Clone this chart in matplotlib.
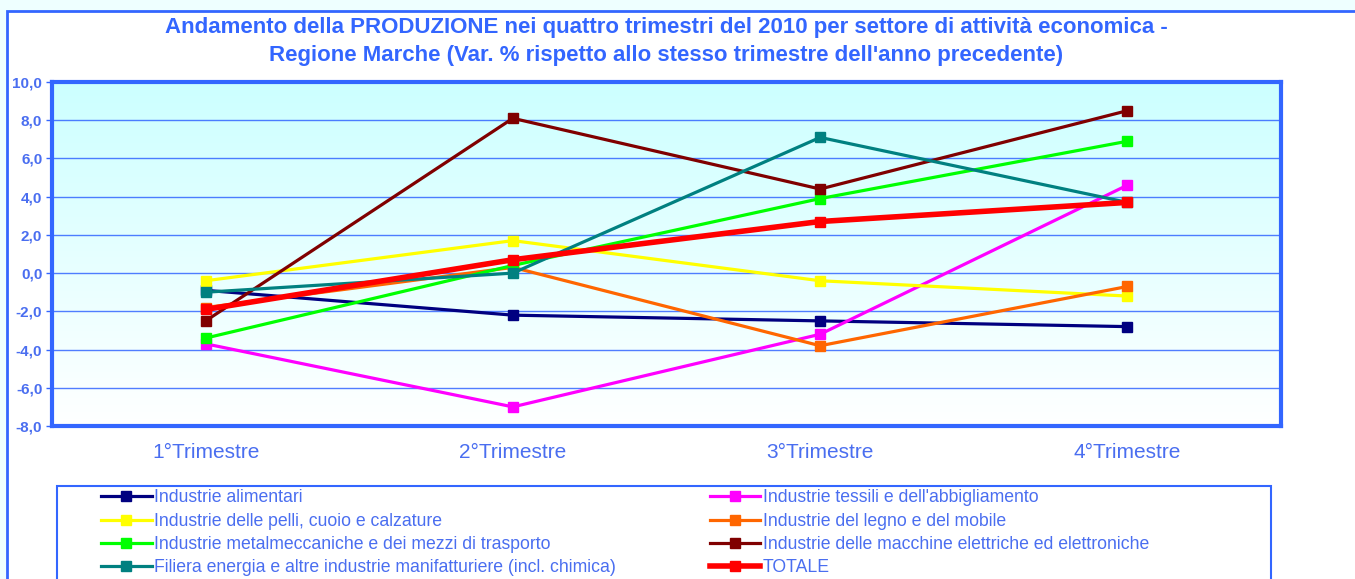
import numpy as np
import matplotlib.pyplot as plt
from matplotlib.patches import Rectangle
from matplotlib.lines import Line2D

plt.rcParams['font.family'] = ['Liberation Sans', 'DejaVu Sans']

# dati (Var. % rispetto allo stesso trimestre dell'anno precedente)
trimestri = ['1°Trimestre', '2°Trimestre', '3°Trimestre', '4°Trimestre']
settori = [
    'Industrie alimentari',
    'Industrie tessili e dell\'abbigliamento',
    'Industrie delle pelli, cuoio e calzature',
    'Industrie del legno e del mobile',
    'Industrie metalmeccaniche e dei mezzi di trasporto',
    'Industrie delle macchine elettriche ed elettroniche',
    'Filiera energia e altre industrie manifatturiere (incl. chimica)',
    'TOTALE',
]
alimentari = [-0.9, -2.2, -2.5, -2.8]
tessili = [-3.7, -7.0, -3.2, 4.6]
pelli = [-0.4, 1.7, -0.4, -1.2]
legno = [-1.8, 0.3, -3.8, -0.7]
metalmeccaniche = [-3.4, 0.4, 3.9, 6.9]
macchine_elettriche = [-2.5, 8.1, 4.4, 8.5]
filiera_energia = [-1.0, 0.0, 7.1, 3.7]
totale = [-1.9, 0.7, 2.7, 3.7]

serie = [alimentari, tessili, pelli, legno, metalmeccaniche,
         macchine_elettriche, filiera_energia, totale]
colori = ['#000080', '#FF00FF', '#FFFF00', '#FF6600', '#00FF00',
          '#800000', '#008080', '#FF0000']

BLU = '#3366FF'
TESTO = '#4A6EF0'

fig = plt.figure(figsize=(13.55, 5.79), dpi=100)
fig.patch.set_facecolor('#EEFFFF')

# cornice esterna del grafico
fig.patches.append(Rectangle((7 / 1355, -0.1), 1.2, 1 - 11 / 579 + 0.1,
                             transform=fig.transFigure, facecolor='white',
                             edgecolor=BLU, linewidth=2.0, zorder=-3))
# cornice della legenda
fig.patches.append(Rectangle((57 / 1355, -0.1), (1271 - 57) / 1355, 1 - 486 / 579 + 0.1,
                             transform=fig.transFigure, facecolor='white',
                             edgecolor=BLU, linewidth=1.5, zorder=-2))

ax = fig.add_axes([52 / 1355, 1 - 426 / 579, (1281 - 52) / 1355, (426 - 82) / 579])
ax.set_zorder(1)
ax.set_facecolor('none')

# sfondo sfumato azzurro -> bianco
grad = np.linspace(0, 1, 256).reshape(-1, 1)
top = np.array([204, 255, 255]) / 255
bot = np.array([255, 255, 255]) / 255
img = top[None, None, :] * (1 - grad[:, :, None]) + bot[None, None, :] * grad[:, :, None]
ax.imshow(img, extent=[0, 1, 0, 1], transform=ax.transAxes, aspect='auto', zorder=0)

x = np.arange(len(trimestri))
for s, c, nome in zip(serie, colori, settori):
    lw = 4.0 if nome == 'TOTALE' else 2.3
    ax.plot(x, s, color=c, linewidth=lw, marker='s', markersize=7.5,
            markeredgecolor=c, zorder=3 if nome != 'TOTALE' else 4)

ax.set_xlim(-0.5, 3.5)
ax.set_ylim(-8, 10)
ax.set_yticks(np.arange(-8, 10.1, 2))
ax.set_yticklabels([f'{v:.1f}'.replace('.', ',') for v in np.arange(-8, 10.1, 2)])
ax.set_xticks(x)
ax.set_xticklabels(trimestri)
ax.grid(axis='y', color=BLU, linewidth=1.0, alpha=0.85, zorder=1)
ax.set_axisbelow(True)

for sp in ax.spines.values():
    sp.set_color(BLU)
    sp.set_linewidth(3.0)
ax.tick_params(axis='y', colors=BLU, labelcolor=TESTO, labelsize=11, length=4, width=1, pad=3)
ax.tick_params(axis='x', length=0, labelcolor=TESTO, labelsize=15, pad=12)
for t in ax.get_yticklabels():
    t.set_fontweight('bold')

# titolo
fig.text(666 / 1355, 1 - 28 / 579,
         'Andamento della PRODUZIONE nei quattro trimestri del 2010 per settore di attività economica -',
         ha='center', va='center', fontsize=16, fontweight='bold', color=BLU)
fig.text(666 / 1355, 1 - 55 / 579,
         'Regione Marche (Var. % rispetto allo stesso trimestre dell\'anno precedente)',
         ha='center', va='center', fontsize=16, fontweight='bold', color=BLU)

# legenda
handles = []
for c, nome in zip(colori, settori):
    lw = 4.0 if nome == 'TOTALE' else 2.3
    handles.append(Line2D([], [], color=c, linewidth=lw, marker='s', markersize=7.5))
ordine = [0, 2, 4, 6, 1, 3, 5, 7]
leg = fig.legend([handles[i] for i in ordine], [settori[i] for i in ordine],
                 ncol=2, loc='upper left', bbox_to_anchor=(89 / 1355, 1 - 477 / 579),
                 frameon=False, fontsize=12.7, handlelength=2.85, handletextpad=0.15,
                 labelspacing=0.36, columnspacing=5.3, borderpad=0.2)
for t in leg.get_texts():
    t.set_color(TESTO)

fig.savefig('out.png', dpi=100, facecolor=fig.get_facecolor())
